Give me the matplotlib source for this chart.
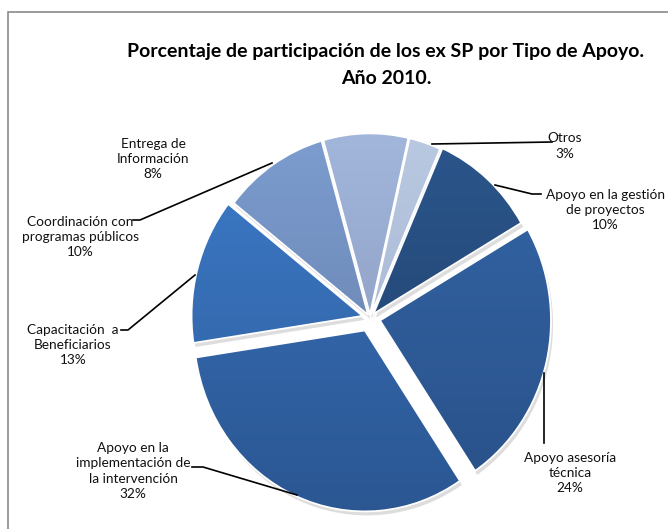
import numpy as np
import matplotlib.pyplot as plt
from matplotlib.colors import LinearSegmentedColormap
from matplotlib.lines import Line2D
from matplotlib.patches import Rectangle

plt.rcParams['font.family'] = ['Lato', 'DejaVu Sans']

# Datos (orden en sentido horario empezando por "Otros")
nombres = ['Otros', 'Apoyo en la gestión\nde proyectos', 'Apoyo asesoría\ntécnica',
           'Apoyo en la\nimplementación de\nla intervención', 'Capacitación  a\nBeneficiarios',
           'Coordinación con\nprogramas públicos', 'Entrega de\nInformación']
porcentajes = [3, 10, 24, 32, 13, 10, 8]
separacion = [0.02, 0.03, 0.06, 0.075, 0.045, 0.02, 0.02]
color_arriba = ['#bccbe3', '#2c588f', '#3568aa', '#3b74bf', '#3e7ecf', '#7fa0d4', '#a5b8de']
color_abajo = ['#9eaecb', '#1f3d66', '#284f86', '#2a5590', '#2d5a95', '#5f779f', '#8193b5']

# posiciones de las etiquetas (pixeles) y sus lineas guia
pos_etiquetas = [(565, 146), (605, 210), (570, 473), (133, 471), (73, 345), (80, 237), (153, 159)]
guias = [[(432, 144), (552, 142)],
         [(495, 185), (532, 194), (541, 194)],
         [(544, 373), (544, 443)],
         [(297, 495), (203, 467), (192, 467)],
         [(195, 275), (128, 330), (121, 330)],
         [(272, 163), (140, 220), (133, 220)],
         None]

W, H = 668, 529
fig = plt.figure(figsize=(W / 100, H / 100), dpi=100)


def px(x, y):
    return x / W, 1 - y / H


# marco del grafico
fig.patches.append(Rectangle(px(8, 560), 700 / W, 548 / H, transform=fig.transFigure,
                             fill=False, edgecolor='#8a8a8a', linewidth=1.2))

fig.text(*px(386, 52), 'Porcentaje de participación de los ex SP por Tipo de Apoyo.',
         ha='center', va='center', fontsize=14, fontweight='bold')
fig.text(*px(386, 79), 'Año 2010.', ha='center', va='center', fontsize=14, fontweight='bold')

# ejes del pastel (ligeramente eliptico como en el original)
cx, cy, rx, ry = 370, 318, 171, 181
lim = 1.3
ax = fig.add_axes([(cx - lim * rx) / W, 1 - (cy + lim * ry) / H, 2 * lim * rx / W, 2 * lim * ry / H])

# sombra suave
sombra, _ = ax.pie(porcentajes, explode=separacion, startangle=77, counterclock=False,
                   center=(0.012, -0.022), colors=['#cfcfcf'] * len(porcentajes),
                   wedgeprops=dict(linewidth=0, alpha=0.7))

cunas, _ = ax.pie(porcentajes, explode=separacion, startangle=77, counterclock=False,
                  wedgeprops=dict(edgecolor='white', linewidth=1.3))

grad = np.linspace(0, 1, 256).reshape(-1, 1)
for i, w in enumerate(cunas):
    cmap = LinearSegmentedColormap.from_list('g%d' % i, [color_arriba[i], color_abajo[i]])
    im = ax.imshow(grad, extent=(-1.2, 1.2, -1.2, 1.2), origin='upper', cmap=cmap,
                   aspect='auto', zorder=1)
    im.set_clip_path(w)
    w.set_facecolor('none')
    w.set_zorder(2)

ax.set_aspect('auto')
ax.set_xlim(-lim, lim)
ax.set_ylim(-lim, lim)
ax.axis('off')

for i in range(len(porcentajes)):
    texto = '%s\n%d%%' % (nombres[i], porcentajes[i])
    fig.text(*px(*pos_etiquetas[i]), texto, ha='center', va='center', fontsize=9.8,
             linespacing=1.32, color='#111111')
    if guias[i]:
        xs = [p[0] / W for p in guias[i]]
        ys = [1 - p[1] / H for p in guias[i]]
        fig.lines.append(Line2D(xs, ys, transform=fig.transFigure, color='black', linewidth=1.2))

fig.savefig('out.png', dpi=100)
